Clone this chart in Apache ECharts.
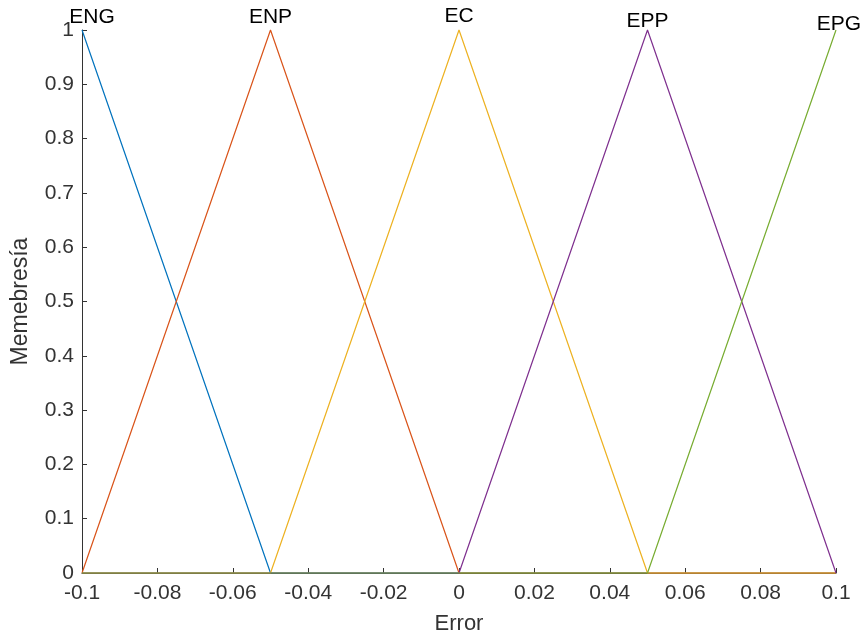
<!DOCTYPE html>
<html>
<head>
<meta charset="utf-8">
<script src="https://cdn.jsdelivr.net/npm/echarts@6/dist/echarts.min.js"></script>
<style>
  html, body { margin: 0; padding: 0; background: #fff; }
  #main { width: 862px; height: 638px; }
</style>
</head>
<body>
<div id="main"></div>
<script>
// funciones de membresia (puntos de quiebre)
var names = ['ENG', 'ENP', 'EC', 'EPP', 'EPG'];
var colors = ['#0072BD', '#D95319', '#EDB120', '#7E2F8E', '#77AC30'];
var engX = [-0.1, -0.05, 0.1];
var engY = [1, 0, 0];
var enpX = [-0.1, -0.05, 0, 0.1];
var enpY = [0, 1, 0, 0];
var ecX = [-0.1, -0.05, 0, 0.05, 0.1];
var ecY = [0, 0, 1, 0, 0];
var eppX = [-0.1, 0, 0.05, 0.1];
var eppY = [0, 0, 1, 0];
var epgX = [-0.1, 0.05, 0.1];
var epgY = [0, 0, 1];
var xs = [engX, enpX, ecX, eppX, epgX];
var ys = [engY, enpY, ecY, eppY, epgY];
var labelOffsets = [[10, 0], [0, 0], [0, -1], [0, 4], [3, 7]];

var txt = '#333333';
var font = 'Liberation Sans, Arial, sans-serif';
var chart = echarts.init(document.getElementById('main'));

var series = names.map(function (n, i) {
  var data = xs[i].map(function (x, j) {
    var p = { value: [x, ys[i][j]] };
    if (ys[i][j] === 1) {
      p.label = {
        show: true, position: 'top', distance: 2, formatter: n,
        color: '#000', fontSize: 21, fontFamily: font,
        offset: labelOffsets[i]
      };
    }
    return p;
  });
  return {
    name: n, type: 'line', data: data,
    symbol: 'circle', symbolSize: 0, showSymbol: true,
    lineStyle: { color: colors[i], width: 1.2 }, itemStyle: { color: colors[i] },
    label: { show: false },
    clip: false, animation: false
  };
});

chart.setOption({
  animation: false,
  grid: { left: 82, right: 26, top: 30, bottom: 65, containLabel: false, outerBoundsMode: 'none' },
  xAxis: {
    type: 'value', min: -0.1, max: 0.1, interval: 0.02,
    name: 'Error', nameLocation: 'middle', nameGap: 40,
    nameTextStyle: { color: txt, fontSize: 22, fontFamily: font },
    axisLine: { show: true, onZero: false, lineStyle: { color: txt, width: 1 } },
    axisTick: { show: true, inside: true, length: 5, lineStyle: { color: txt } },
    axisLabel: {
      color: txt, fontSize: 21, margin: 10, fontFamily: font,
      formatter: function (v) { return String(Math.round(v * 100) / 100); }
    },
    splitLine: { show: false }
  },
  yAxis: {
    type: 'value', min: 0, max: 1, interval: 0.1,
    name: 'Memebresía', nameLocation: 'middle', nameGap: 50,
    nameTextStyle: { color: txt, fontSize: 23, fontFamily: font },
    axisLine: { show: true, onZero: false, lineStyle: { color: txt, width: 1 } },
    axisTick: { show: true, inside: true, length: 5, lineStyle: { color: txt } },
    axisLabel: {
      color: txt, fontSize: 21, margin: 8, fontFamily: font,
      formatter: function (v) { return String(Math.round(v * 10) / 10); }
    },
    splitLine: { show: false }
  },
  series: series
});
</script>
</body>
</html>
